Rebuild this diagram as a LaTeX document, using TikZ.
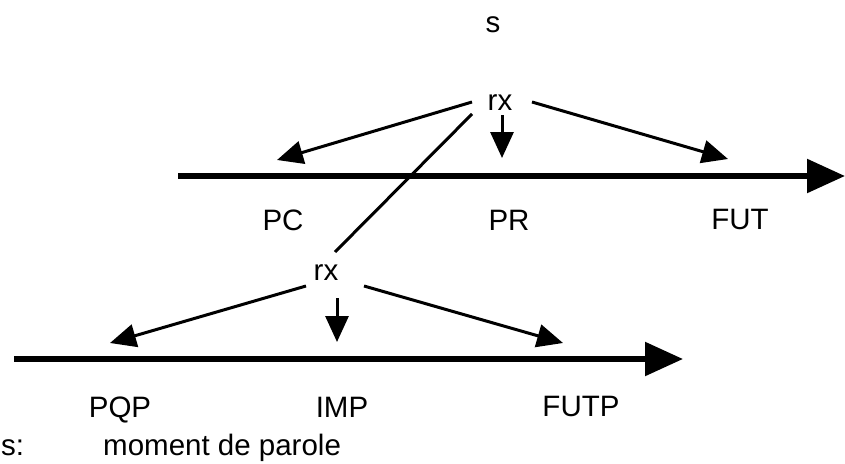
\documentclass[tikz,border=0pt]{standalone}
\usepackage{fontspec}
\setmainfont{Liberation Sans}
\usetikzlibrary{arrows.meta}
\begin{document}
\begin{tikzpicture}[x=1pt,y=-1pt,
  lbl/.style={font=\fontsize{29.5}{31}\selectfont, inner sep=0pt, anchor=base},
  axis/.style={line width=5.5pt, -{Triangle[length=38pt,width=33pt]}},
  ptr/.style={line width=3pt, -{Triangle[length=26pt,width=23pt]}},
  link/.style={line width=3pt}]
\useasboundingbox (0,0) rectangle (845,463);
% labels
\node[lbl] (s) at (493,32) {s};
\node[lbl] (rx1) at (500,110) {rx};
\node[lbl] (rx2) at (326,280) {rx};
\node[lbl] (pc) at (283,230) {PC};
\node[lbl] (pr) at (509,230) {PR};
\node[lbl] (fut) at (740,229) {FUT};
\node[lbl] (pqp) at (120,417) {PQP};
\node[lbl] (imp) at (342,417) {IMP};
\node[lbl] (futp) at (581,416) {FUTP};
\node[lbl, anchor=base west] (sc) at (1,455) {s:};
\node[lbl, anchor=base west] (mp) at (103,455) {moment de parole};
% axes
\coordinate (a1s) at (178,176);
\coordinate (a1e) at (845,176);
\coordinate (a2s) at (14,359);
\coordinate (a2e) at (683,359);
\draw[axis] (a1s) -- (a1e);
\draw[axis] (a2s) -- (a2e);
% upper rx arrows
\coordinate (u1) at (472,102);
\coordinate (u1t) at (277,160);
\coordinate (u2) at (502,115);
\coordinate (u2t) at (502,158);
\coordinate (u3) at (532,102);
\coordinate (u3t) at (728,159);
\draw[ptr] (u1) -- (u1t);
\draw[ptr] (u2) -- (u2t);
\draw[ptr] (u3) -- (u3t);
% link
\coordinate (l1) at (472,114);
\coordinate (l2) at (335,252);
\draw[link] (l1) -- (l2);
% lower rx arrows
\coordinate (d1) at (306,286);
\coordinate (d1t) at (110,343);
\coordinate (d2) at (337,298);
\coordinate (d2t) at (337,342);
\coordinate (d3) at (364,286);
\coordinate (d3t) at (563,343);
\draw[ptr] (d1) -- (d1t);
\draw[ptr] (d2) -- (d2t);
\draw[ptr] (d3) -- (d3t);
\end{tikzpicture}
\end{document}
